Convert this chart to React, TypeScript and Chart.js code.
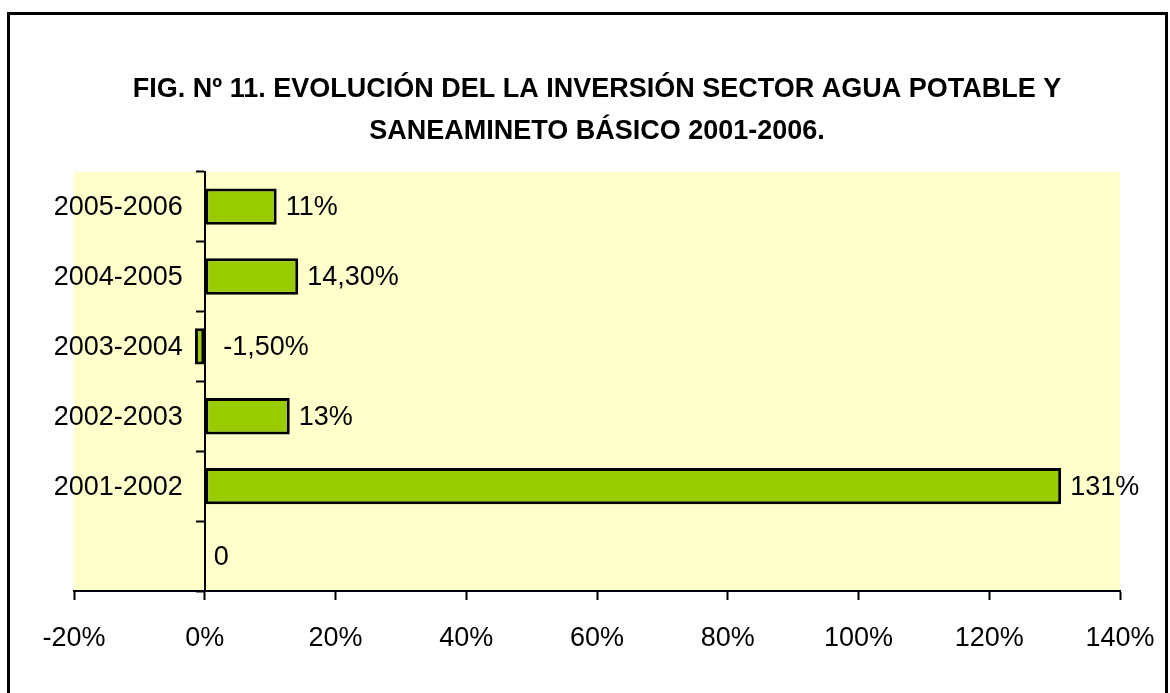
import React, { useEffect, useRef } from "react";
import { Chart, registerables } from "chart.js";

Chart.register(...registerables);

const categories = ["2005-2006", "2004-2005", "2003-2004", "2002-2003", "2001-2002", ""];
const values = [11, 14.3, -1.5, 13, 131, 0];
const valueLabels = ["11%", "14,30%", "-1,50%", "13%", "131%", "0"];
const xTickValues = [-20, 0, 20, 40, 60, 80, 100, 120, 140];
const titleLines = [
  "FIG. Nº 11. EVOLUCIÓN DEL LA INVERSIÓN SECTOR AGUA POTABLE Y",
  "SANEAMINETO BÁSICO 2001-2006.",
];

const FONT = "'Liberation Sans Narrow', 'Arial Narrow', 'Liberation Sans', Arial, sans-serif";
const LABEL_SIZE = 27;

const plotBg = {
  id: "plotBg",
  beforeDraw(chart: any) {
    const { ctx, chartArea } = chart;
    ctx.save();
    ctx.fillStyle = "#FFFFCC";
    ctx.fillRect(chartArea.left, chartArea.top, chartArea.right - chartArea.left, chartArea.bottom - chartArea.top);
    ctx.restore();
  },
};

// category labels drawn left of the 0% axis line, using the y scale positions
const categoryLabelPlugin = {
  id: "categoryLabels",
  afterDraw(chart: any) {
    const { ctx } = chart;
    const yScale = chart.scales.y;
    const xScale = chart.scales.x;
    const axisX = xScale.getPixelForValue(0);
    ctx.save();
    ctx.fillStyle = "#000";
    ctx.font = `${LABEL_SIZE}px ${FONT}`;
    ctx.textAlign = "right";
    ctx.textBaseline = "middle";
    categories.forEach((c, i) => {
      if (!c) return;
      ctx.fillText(c, axisX - 22, yScale.getPixelForValue(i) + 1);
    });
    ctx.restore();
  },
};

const valueLabelPlugin = {
  id: "valueLabels",
  afterDatasetsDraw(chart: any) {
    const { ctx } = chart;
    const meta = chart.getDatasetMeta(0);
    ctx.save();
    ctx.fillStyle = "#000";
    ctx.font = `${LABEL_SIZE}px ${FONT}`;
    ctx.textAlign = "left";
    ctx.textBaseline = "middle";
    meta.data.forEach((el: any, i: number) => {
      const v = values[i];
      const end = Math.max(el.x, el.base);
      const x = v < 0 ? el.base + 19 : end + 9;
      ctx.fillText(valueLabels[i], x, el.y + 1);
    });
    ctx.restore();
  },
};

export default function App() {
  const ref = useRef<HTMLCanvasElement | null>(null);

  useEffect(() => {
    if (!ref.current) return;
    const chart = new Chart(ref.current, {
      type: "bar",
      data: {
        labels: categories,
        datasets: [
          {
            data: values,
            backgroundColor: "#99CC00",
            borderColor: "#000000",
            borderWidth: 3,
            borderSkipped: false,
            barPercentage: 1,
            categoryPercentage: 0.52,
          },
        ],
      },
      options: {
        indexAxis: "y",
        responsive: false,
        animation: false,
        devicePixelRatio: 1,
        layout: { padding: { top: 0, left: 74, right: 50, bottom: 0 } },
        plugins: {
          legend: { display: false },
          tooltip: { enabled: false },
          title: {
            display: true,
            text: titleLines,
            color: "#000",
            font: { family: FONT, size: 27, weight: "bold", lineHeight: 1.55 },
            padding: { top: 69, bottom: 19 },
          },
        },
        scales: {
          x: {
            type: "linear",
            min: -20,
            max: 140,
            position: "bottom",
            afterBuildTicks: (s: any) => {
              s.ticks = xTickValues.map((v) => ({ value: v }));
            },
            afterFit: (s: any) => {
              s.height = 102;
              s.paddingLeft = 0;
              s.paddingRight = 0;
            },
            ticks: {
              color: "#000",
              font: { family: FONT, size: LABEL_SIZE },
              padding: 22,
              maxRotation: 0,
              callback: (v: any) => `${v}%`,
            },
            grid: {
              drawOnChartArea: false,
              drawTicks: true,
              tickLength: 9,
              tickWidth: 2,
              tickColor: "#000",
            },
            border: { display: true, color: "#000", width: 2 },
          },
          y: {
            type: "category",
            position: { x: 0 } as any,
            offset: true,
            grid: {
              offset: true,
              drawOnChartArea: false,
              drawTicks: true,
              tickLength: 8,
              tickWidth: 2,
              tickColor: "#000",
            },
            border: { display: true, color: "#000", width: 2 },
            ticks: { display: false },
          },
        },
      },
      plugins: [plotBg, valueLabelPlugin, categoryLabelPlugin],
    });
    return () => chart.destroy();
  }, []);

  return (
    <div style={{ position: "fixed", left: 0, top: 0, width: 1170, height: 693, background: "#fff", overflow: "hidden" }}>
      <canvas ref={ref} width={1170} height={693} style={{ position: "absolute", left: 0, top: 0, width: 1170, height: 693 }} />
      <div
        style={{
          position: "absolute",
          left: 7,
          top: 12,
          width: 1155,
          height: 700,
          borderTop: "3px solid #000",
          borderLeft: "3px solid #000",
          borderRight: "3px solid #000",
          pointerEvents: "none",
        }}
      />
    </div>
  );
}
